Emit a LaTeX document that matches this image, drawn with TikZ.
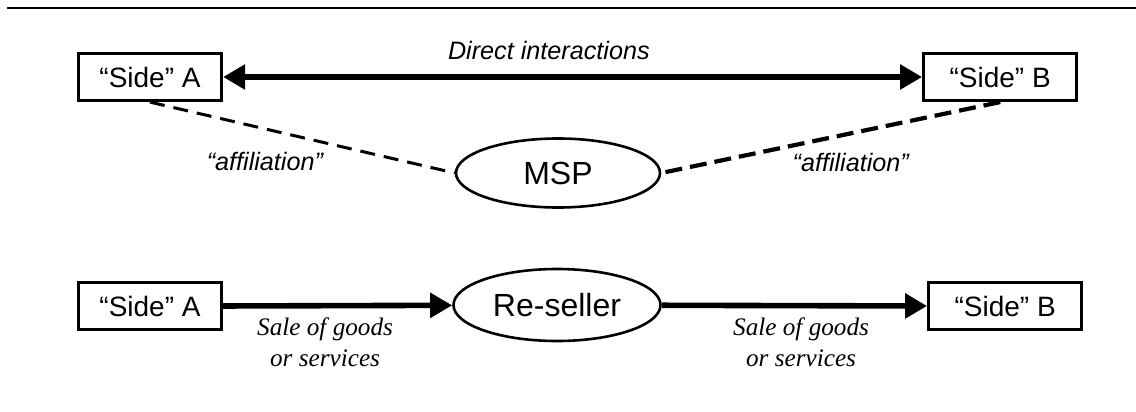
\documentclass[tikz,border=0pt]{standalone}
\usepackage{fontspec}
\setmainfont{Liberation Sans}
\newfontfamily\salefont{Liberation Serif}
\usetikzlibrary{arrows.meta,positioning,shapes.geometric}
\tikzset{
    >={Triangle[length=11pt,width=12pt]},
    side box/.style={rectangle,draw,line width=1.6pt,inner sep=0pt,minimum height=23.5pt,font=\fontsize{14}{16}\selectfont},
    hub/.style={ellipse,draw,line width=1.3pt,inner sep=0pt,font=\fontsize{16}{18}\selectfont},
    link label/.style={font=\itshape\fontsize{12.6}{15}\selectfont},
    deal label/.style={font=\salefont\itshape\fontsize{12.6}{15.5}\selectfont,align=center}
}
\begin{document}
\begin{tikzpicture}[x=0.5pt,y=-0.5pt]
    \useasboundingbox (0,0) rectangle (1136,412);
    \coordinate (ruleL) at (7,8);
    \coordinate (ruleR) at (1136,8);
    \draw[line width=1pt] (ruleL) -- (ruleR);
    % MSP
    \node[side box, minimum width=71.5pt] (a1) at (150,77) {``Side'' A};
    \node[side box, minimum width=76.5pt] (b1) [right = 349.5pt of a1] {``Side'' B};
    \node[hub, minimum width=102pt, minimum height=34.5pt] (msp) at (558,173) {MSP};
    % re-seller
    \node[side box, minimum width=71.5pt] (a2) [below = 89.5pt of a1] {``Side'' A};
    \node[side box, minimum width=76.5pt] (b2) [right = 352pt of a2] {``Side'' B};
    \node[hub, minimum width=103.5pt, minimum height=36pt] (seller) at (557,305) {Re-seller};
    \path[]
        (a1) edge [<->, line width=3pt] node [link label, pos=.466, yshift=13.5pt] {Direct interactions} (b1)
        (a1.south) edge [line width=1.5pt, dash pattern=on 7.5pt off 4.5pt] node [link label, pos=.377, yshift=-16.5pt] {``affiliation''} (msp.west)
        (b1.south) edge [line width=2.1pt, dash pattern=on 8.5pt off 4pt] node [link label, pos=.441, yshift=-14.5pt] {``affiliation''} (msp.east)
        (a2) [->, line width=2.8pt] edge node [deal label, pos=.445, yshift=-18.5pt] {Sale of goods\\or services} (seller)
        (seller) [->, line width=2.8pt] edge node [deal label, pos=.525, yshift=-18.5pt] {Sale of goods\\or services} (b2)
        ;
\end{tikzpicture}
\end{document}
